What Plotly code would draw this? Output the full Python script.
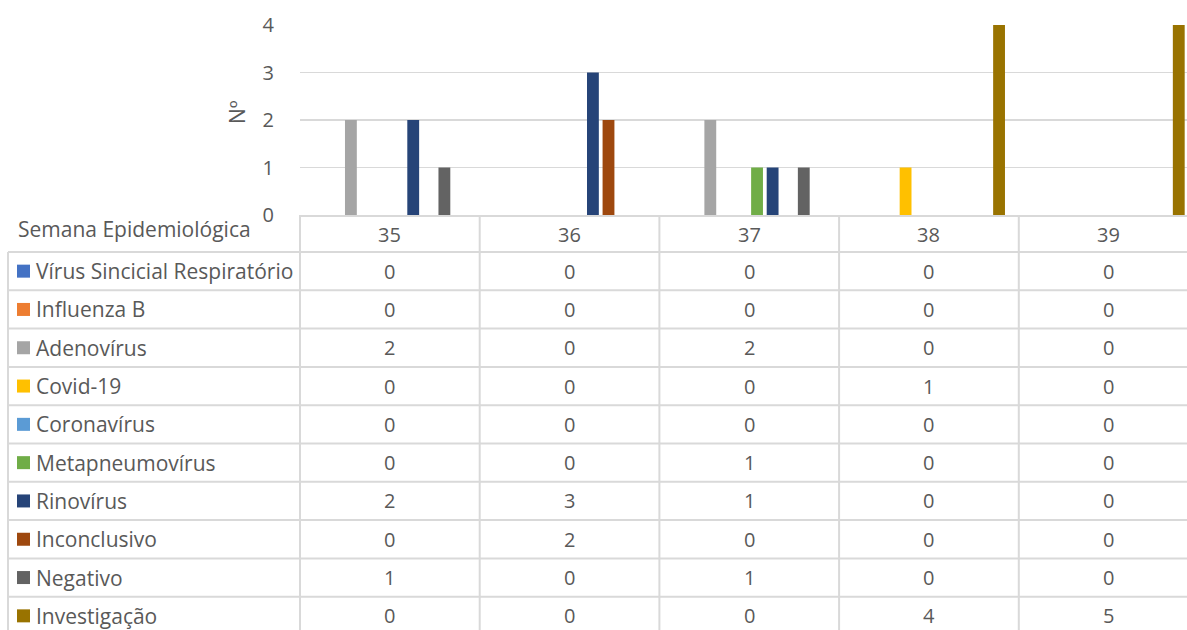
import plotly.graph_objects as go

# ---------------- data ----------------
weeks = ["35", "36", "37", "38", "39"]
series_names = [
    "Vírus Sincicial Respiratório", "Influenza B", "Adenovírus", "Covid-19",
    "Coronavírus", "Metapneumovírus", "Rinovírus", "Inconclusivo",
    "Negativo", "Investigação",
]
vsr = [0, 0, 0, 0, 0]
influenza_b = [0, 0, 0, 0, 0]
adenovirus = [2, 0, 2, 0, 0]
covid19 = [0, 0, 0, 1, 0]
coronavirus = [0, 0, 0, 0, 0]
metapneumovirus = [0, 0, 1, 0, 0]
rinovirus = [2, 3, 1, 0, 0]
inconclusivo = [0, 2, 0, 0, 0]
negativo = [1, 0, 1, 0, 0]
investigacao = [0, 0, 0, 4, 5]
y_ticks = [0, 1, 2, 3, 4]

series_values = [vsr, influenza_b, adenovirus, covid19, coronavirus,
                 metapneumovirus, rinovirus, inconclusivo, negativo, investigacao]
series_colors = ["#4472C4", "#ED7D31", "#A5A5A5", "#FFC000", "#5B9BD5",
                 "#70AD47", "#264478", "#9E480E", "#636363", "#997300"]

# ---------------- layout constants ----------------
OFF = 0  # page body margin removed by post_script
W, H = 1187 - OFF, 630 - OFF
ML, MR, MT, MB = 300 - OFF, 0, 25 - OFF, 415
PW, PH = W - ML - MR, H - MT - MB
CAT_W = 179.7
X_RANGE = [-0.5, -0.5 + PW / CAT_W]
TXT = "#595959"
LINE = "#d9d9d9"
FONT = "Open Sans"
FS_LABEL = 21
FS_NUM = 20

HEADER_BOTTOM = 252
ROW_H = 38.3


def px_x(px):
    # viewport px -> paper x
    return (px - OFF - ML) / PW


def px_y(py):
    # viewport px -> paper y
    return (MT + PH - (py - OFF)) / PH


def cat_edge(i):
    # paper x of left edge of category i, from the axis range
    return (i - 0.5 - X_RANGE[0]) / (X_RANGE[1] - X_RANGE[0])


fig = go.Figure()
for name, vals, col in zip(series_names, series_values, series_colors):
    fig.add_trace(go.Bar(x=weeks, y=vals, name=name, marker_color=col,
                         marker_line_width=0, hoverinfo="skip"))

shapes = []
annotations = []

# header row (weeks)
for i, w in enumerate(weeks):
    annotations.append(dict(x=i, xref="x", y=px_y(234), yref="paper",
                            text=w, showarrow=False, xanchor="center", yanchor="middle",
                            font=dict(family=FONT, size=FS_NUM, color=TXT)))
annotations.append(dict(x=px_x(16), xref="paper", y=px_y(229), yref="paper",
                        text="Semana Epidemiológica", showarrow=False,
                        xanchor="left", yanchor="middle",
                        font=dict(family=FONT, size=FS_LABEL, color=TXT)))

# table rows
n_rows = len(series_names)
for k, (name, vals, col) in enumerate(zip(series_names, series_values, series_colors)):
    top = HEADER_BOTTOM + k * ROW_H
    cy = top + ROW_H / 2
    shapes.append(dict(type="rect", xref="paper", yref="paper",
                       x0=px_x(17), x1=px_x(30), y0=px_y(cy - 6.5), y1=px_y(cy + 6.5),
                       fillcolor=col, line=dict(width=0)))
    annotations.append(dict(x=px_x(34), xref="paper", y=px_y(cy), yref="paper",
                            text=name, showarrow=False, xanchor="left", yanchor="middle",
                            font=dict(family=FONT, size=FS_LABEL, color=TXT)))
    for i, v in enumerate(vals):
        annotations.append(dict(x=i, xref="x", y=px_y(cy), yref="paper",
                                text=str(v), showarrow=False,
                                xanchor="center", yanchor="middle",
                                font=dict(family=FONT, size=FS_NUM, color=TXT)))

# horizontal lines
for k in range(n_rows + 1):
    yy = px_y(HEADER_BOTTOM + k * ROW_H)
    shapes.append(dict(type="line", xref="paper", yref="paper",
                       x0=px_x(8), x1=1.0, y0=yy, y1=yy,
                       line=dict(color=LINE, width=2)))
# vertical lines
bottom = px_y(640)
shapes.append(dict(type="line", xref="paper", yref="paper",
                   x0=px_x(8), x1=px_x(8), y0=px_y(HEADER_BOTTOM), y1=bottom,
                   line=dict(color=LINE, width=2)))
for i in range(len(weeks)):
    xx = cat_edge(i)
    shapes.append(dict(type="line", xref="paper", yref="paper",
                       x0=xx, x1=xx, y0=0, y1=bottom,
                       line=dict(color=LINE, width=2)))

# y axis title
annotations.append(dict(x=px_x(237), xref="paper", y=px_y(112), yref="paper",
                        text="Nº", textangle=-90, showarrow=False,
                        xanchor="center", yanchor="middle",
                        font=dict(family=FONT, size=21, color=TXT)))

fig.update_layout(
    width=W, height=H,
    margin=dict(l=ML, r=MR, t=MT, b=MB),
    paper_bgcolor="white", plot_bgcolor="white",
    barmode="group", bargap=0.133, bargroupgap=0.24,
    showlegend=False,
    hovermode=False,
    font=dict(family=FONT, color=TXT),
    xaxis=dict(type="category", range=X_RANGE, showticklabels=False,
               showgrid=False, zeroline=False, showline=True,
               linecolor=LINE, linewidth=2, fixedrange=True),
    yaxis=dict(range=[0, 4], tickvals=y_ticks, showgrid=True, gridcolor=LINE,
               gridwidth=1.5, zeroline=False, showline=False,
               ticks="outside", ticklen=21, tickcolor="rgba(0,0,0,0)",
               tickfont=dict(family=FONT, size=FS_NUM, color=TXT), fixedrange=True),
    shapes=shapes,
    annotations=annotations,
)

fig.write_html(
    "out.html",
    config={"displayModeBar": False, "staticPlot": True},
    post_script="document.body.style.margin='0';document.body.style.overflow='hidden';",
)
